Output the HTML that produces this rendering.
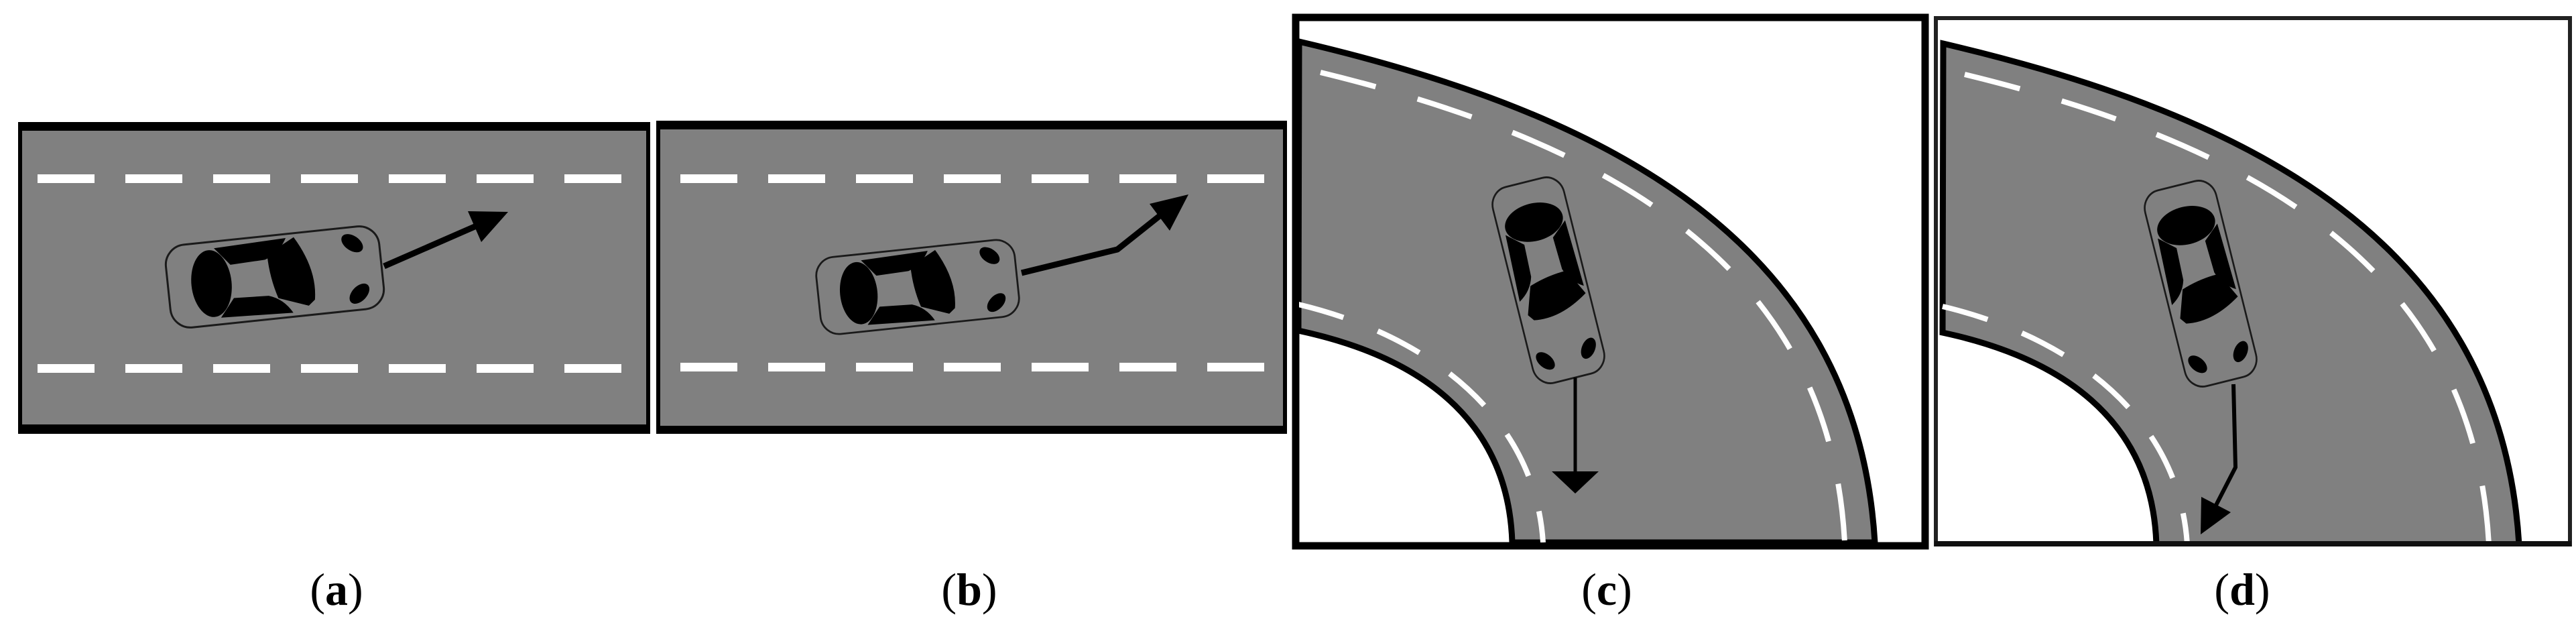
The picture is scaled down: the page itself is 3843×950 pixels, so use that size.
<!DOCTYPE html>
<html><head><meta charset="utf-8"><style>
html,body{margin:0;padding:0;background:#fff}
svg{display:block}
text{font-family:"Liberation Serif",serif;font-size:68px}
</style></head><body>
<svg width="3843" height="950" viewBox="0 0 3843 950" xmlns="http://www.w3.org/2000/svg">
<defs>
<g id="car">
<rect x="-160" y="-62" width="320" height="124" rx="30" fill="#808080" stroke="#1a1a1a" stroke-width="3"/>
<ellipse cx="-95" cy="0" rx="30" ry="50" fill="#000"/>
<path d="M-86,-52 L22,-56 Q10,-34 -12,-27 L-64,-25 Z" fill="#000"/>
<path d="M-86,52 L22,56 Q10,34 -12,27 L-64,25 Z" fill="#000"/>
<path d="M-8,-34 L34,-56 Q64,-5 56,40 L46,48 L2,32 Q-8,0 -8,-34 Z" fill="#000"/>
<ellipse cx="120" cy="-38" rx="18" ry="11" transform="rotate(40 120 -38)" fill="#000"/>
<ellipse cx="123" cy="38" rx="18" ry="11" transform="rotate(-40 123 38)" fill="#000"/>
</g>
<clipPath id="cc"><rect x="1938" y="31" width="928" height="778"/></clipPath>
<clipPath id="cd"><rect x="2891" y="30" width="940" height="780"/></clipPath>
<g id="curve">
<path d="M1938,62 C2400,170 2770,360 2797,809 L2256,809 C2250,620 2110,530 1937,493 Z" fill="#808080" stroke="#000" stroke-width="9"/>
<path d="M1970,108 C2410,215 2730,400 2752,809" fill="none" stroke="#fff" stroke-width="8" stroke-dasharray="85 65"/>
<path d="M1937,454 C2130,500 2290,620 2302,809" fill="none" stroke="#fff" stroke-width="8" stroke-dasharray="70 55"/>
</g>
</defs>

<rect x="27" y="182" width="943" height="465" fill="#000"/>
<rect x="33" y="195" width="931" height="438" fill="#808080"/>
<g fill="#fff">
<rect x="56" y="260" width="85" height="13"/><rect x="187" y="260" width="85" height="13"/><rect x="318" y="260" width="85" height="13"/><rect x="449" y="260" width="85" height="13"/><rect x="580" y="260" width="85" height="13"/><rect x="711" y="260" width="85" height="13"/><rect x="842" y="260" width="85" height="13"/>
<rect x="56" y="543" width="85" height="13"/><rect x="187" y="543" width="85" height="13"/><rect x="318" y="543" width="85" height="13"/><rect x="449" y="543" width="85" height="13"/><rect x="580" y="543" width="85" height="13"/><rect x="711" y="543" width="85" height="13"/><rect x="842" y="543" width="85" height="13"/>
</g>
<use href="#car" transform="translate(410,413) rotate(-6)"/>
<line x1="573" y1="397" x2="715" y2="335" stroke="#000" stroke-width="9"/>
<polygon points="758,316 718,361 698,315" fill="#000"/>

<rect x="979" y="180" width="941" height="467" fill="#000"/>
<rect x="985" y="193" width="929" height="442" fill="#808080"/>
<g fill="#fff">
<rect x="1015" y="260" width="85" height="13"/><rect x="1146" y="260" width="85" height="13"/><rect x="1277" y="260" width="85" height="13"/><rect x="1408" y="260" width="85" height="13"/><rect x="1539" y="260" width="85" height="13"/><rect x="1670" y="260" width="85" height="13"/><rect x="1801" y="260" width="85" height="13"/>
<rect x="1015" y="541" width="85" height="13"/><rect x="1146" y="541" width="85" height="13"/><rect x="1277" y="541" width="85" height="13"/><rect x="1408" y="541" width="85" height="13"/><rect x="1539" y="541" width="85" height="13"/><rect x="1670" y="541" width="85" height="13"/><rect x="1801" y="541" width="85" height="13"/>
</g>
<use href="#car" transform="translate(1369,428) rotate(-6) scale(0.93)"/>
<polyline points="1524,407 1667,372 1735,318" fill="none" stroke="#000" stroke-width="9" stroke-linejoin="round"/>
<polygon points="1773,290 1745,344 1715,304" fill="#000"/>

<rect x="1933" y="26" width="939" height="788" fill="#fff" stroke="#000" stroke-width="11"/>
<g clip-path="url(#cc)"><use href="#curve"/></g>
<use href="#car" transform="translate(2310,418) rotate(76) scale(0.94,0.88)"/>
<line x1="2350" y1="563" x2="2350" y2="705" stroke="#000" stroke-width="5"/>
<polygon points="2315,703 2385,703 2350,736" fill="#000"/>

<rect x="2888" y="27" width="946" height="785" fill="#fff" stroke="#222" stroke-width="6"/>
<g clip-path="url(#cd)"><use href="#curve" transform="translate(961,3)"/></g>
<line x1="2886" y1="811" x2="3836" y2="811" stroke="#111" stroke-width="8"/>
<use href="#car" transform="translate(3283,423) rotate(76) scale(0.94,0.88)"/>
<polyline points="3332,573 3335,697 3300,765" fill="none" stroke="#000" stroke-width="6" stroke-linejoin="round"/>
<polygon points="3283,797 3328,764 3284,741" fill="#000"/>

<text x="502" y="902" text-anchor="middle">(<tspan font-weight="bold">a</tspan>)</text>
<text x="1446" y="902" text-anchor="middle">(<tspan font-weight="bold">b</tspan>)</text>
<text x="2397" y="902" text-anchor="middle">(<tspan font-weight="bold">c</tspan>)</text>
<text x="3345" y="902" text-anchor="middle">(<tspan font-weight="bold">d</tspan>)</text>
</svg>
</body></html>
